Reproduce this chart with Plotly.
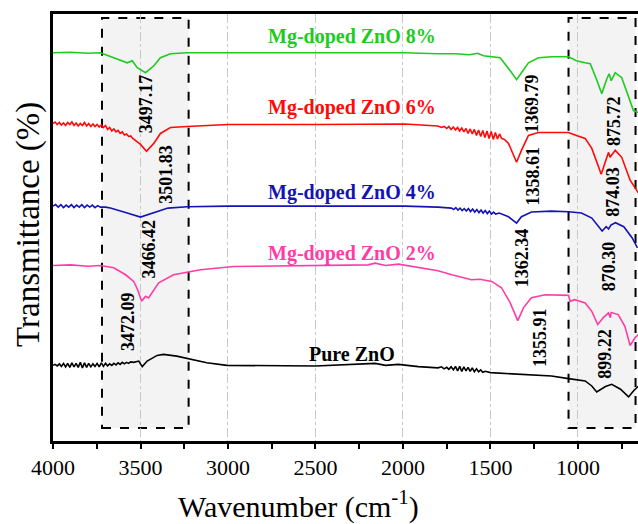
import plotly.graph_objects as go

# ---------------- data ----------------
wn_8 = [4000, 3900, 3800, 3729, 3653, 3576, 3547, 3519, 3471, 3424, 3386, 3329, 3233, 3000, 2500, 2000,
        1800, 1700, 1620, 1574, 1540, 1494, 1445, 1387, 1351, 1323, 1283, 1226, 1151, 1054, 1009, 959,
        930, 902, 864, 835, 822, 810, 787, 750, 711, 683, 654]
t_8 = [390, 390.5, 389.5, 390, 385, 380, 382, 375, 370, 377, 385, 389, 390, 390, 390, 390,
       389, 389, 388, 389.5, 387, 386, 385, 372, 363, 370, 380, 385, 386, 386, 382, 380,
       379, 367, 349, 364, 369, 362, 370, 365, 347, 332, 330]

wn_6 = [4000, 3988, 3976, 3964, 3952, 3940, 3928, 3916, 3904, 3892, 3880, 3868, 3856, 3844, 3832, 3820,
        3808, 3796, 3784, 3772, 3760, 3748, 3736, 3724, 3712, 3700, 3688, 3676, 3664, 3652, 3640, 3628,
        3616, 3604, 3592, 3580, 3568, 3556, 3544, 3530, 3500, 3466, 3424, 3386, 3329, 3233, 3000, 2500,
        1987, 1850, 1800, 1780, 1765, 1750, 1738, 1725, 1712, 1700, 1688, 1676, 1664, 1652, 1640, 1628,
        1616, 1604, 1592, 1580, 1568, 1556, 1544, 1532, 1520, 1508, 1496, 1484, 1472, 1460, 1448, 1437,
        1420, 1397, 1351, 1323, 1283, 1226, 1054, 1009, 959, 921, 867, 835, 825, 817, 787, 750, 702, 654]
t_6 = [319, 320.5, 318, 320, 317.5, 319.5, 317, 320, 318, 320.5, 317, 319.5, 316.5, 319, 317, 320,
       316.5, 319, 316, 318.5, 316, 318, 315.5, 317.5, 315, 317, 313, 315, 311.5, 313.5, 310.5, 312,
       309, 310.5, 307.5, 308.5, 306, 306.5, 304, 302, 298, 291, 299, 309, 315, 316, 318, 318,
       318.5, 317, 316.5, 315, 316, 314, 316, 313, 315.5, 312.5, 315, 311.5, 314.5, 310.5, 314, 309,
       313.5, 308.5, 313, 307, 312.5, 306, 312, 305, 311.5, 304, 311, 303, 310, 303.5, 308.5, 304,
       303, 299, 280, 292, 307, 310, 310, 307, 304, 294, 268, 285, 290, 285, 292, 285, 262, 249]

wn_4 = [4000, 3985, 3970, 3955, 3940, 3925, 3910, 3895, 3880, 3865, 3850, 3835, 3820, 3805, 3790, 3775,
        3760, 3745, 3729, 3700, 3672, 3620, 3576, 3500, 3424, 3343, 3233, 3000, 2500, 1987, 1800, 1723,
        1710, 1698, 1686, 1674, 1662, 1650, 1638, 1626, 1614, 1602, 1590, 1578, 1566, 1554, 1542, 1530,
        1518, 1506, 1494, 1482, 1470, 1450, 1397, 1351, 1323, 1266, 1151, 1054, 980, 921, 862, 839,
        825, 812, 786, 738, 690, 660]
t_4 = [236, 237.5, 235, 237.5, 234.5, 237, 235, 237.5, 234.5, 237, 235, 237.5, 234.5, 237, 235, 237,
       234.5, 236.5, 235, 235, 234, 231, 229, 225, 229, 234, 235.3, 236, 236, 236, 235, 234,
       232.5, 234.5, 232, 234, 231.5, 233.5, 231, 233.5, 230.5, 233, 230, 232.5, 229.5, 232, 229, 231.5,
       228.5, 231, 228, 230, 228, 229, 225.3, 219, 225.3, 230, 231, 230.3, 229, 224, 211, 215.3,
       213, 217, 219.3, 215.3, 204, 194]

wn_2 = [4000, 3900, 3800, 3729, 3653, 3585, 3539, 3516, 3494, 3471, 3454, 3433, 3396, 3311, 3157, 2966,
        2500, 2200, 2159, 2100, 2026, 1912, 1800, 1721, 1609, 1560, 1493, 1437, 1388, 1344, 1311, 1266,
        1187, 1054, 1045, 1020, 959, 921, 887, 855, 826, 815, 810, 770, 732, 702, 673, 654]
t_2 = [176.3, 177, 175.5, 176.3, 174, 167, 160.3, 152, 140.3, 145.3, 143.7, 149, 159, 167, 172, 175.3,
       176.3, 177, 178.7, 176.3, 177.7, 174, 171, 167, 162, 162.5, 160.3, 154, 139, 121, 134, 144,
       147, 146.3, 140.3, 142, 138.7, 130.3, 117, 124, 128.7, 124, 129, 127, 115.3, 96, 104, 107]

wn_0 = [4000, 3988, 3976, 3964, 3952, 3940, 3928, 3916, 3904, 3892, 3880, 3868, 3856, 3844, 3832, 3820,
        3808, 3796, 3784, 3772, 3760, 3748, 3736, 3724, 3712, 3700, 3688, 3676, 3664, 3652, 3640, 3628,
        3616, 3604, 3592, 3580, 3568, 3556, 3539, 3510, 3490, 3462, 3405, 3369, 3293, 3217, 3121, 3007,
        2500, 2159, 2100, 2026, 1912, 1800, 1780, 1765, 1750, 1738, 1725, 1712, 1700, 1688, 1676, 1664,
        1652, 1640, 1628, 1616, 1604, 1592, 1580, 1568, 1556, 1544, 1530, 1500, 1341, 1151, 1054, 959,
        921, 893, 843, 807, 757, 711, 683, 654]
t_0 = [76, 77, 75.5, 77.5, 75, 78, 74.5, 78, 74, 78.5, 74.5, 78, 74, 79, 73.5, 78.5,
       74, 78, 74.5, 77.5, 75, 78, 74.5, 78.5, 75, 78, 75.5, 77.5, 76, 78, 76.5, 78.5,
       77, 79, 77.5, 79, 78, 79.5, 79, 80.3, 74.7, 80.3, 86, 87, 85.3, 82.7, 78.7, 76,
       75.3, 78, 76, 77, 74.7, 73.5, 74.5, 72.5, 74, 72, 74.5, 71.5, 75, 70.5, 75, 70,
       74.5, 70.5, 74, 70, 73.5, 69.5, 72.5, 69.5, 71.5, 69, 70, 68.7, 67, 65.3, 62.7, 60.3,
       55.3, 49.3, 54.7, 57, 52, 44.3, 50.3, 55.3]

series_names = ["Mg-doped ZnO 8%", "Mg-doped ZnO 6%", "Mg-doped ZnO 4%", "Mg-doped ZnO 2%", "Pure ZnO"]
series_x = [wn_8, wn_6, wn_4, wn_2, wn_0]
series_y = [t_8, t_6, t_4, t_2, t_0]

peak_labels = ["3497.17", "3501.83", "3466.42", "3472.09",
               "1369.79", "1358.61", "1362.34", "1355.91",
               "875.72", "874.03", "870.30", "899.22"]

x_ticks = [4000, 3500, 3000, 2500, 2000, 1500, 1000]

# ---------------- styling / placement ----------------
colors = ["#1ecb1e", "#ff0a0a", "#1414b4", "#ff3ca5", "#000000"]
name_pos = [(352, 37), (352, 107), (352, 192), (352, 254), (352, 354)]  # pixel centres
peak_pos = [(3471, 339), (3351, 268), (3454, 193), (3574, 120),
            (1266, 339), (1255, 266), (1323, 184), (1214, 104),
            (797, 321), (797, 250), (826, 176), (843, 88)]
boxes = [(3720, 3225), (1054, 671)]

W, H = 638, 524
ML, MR, MT, MB = 53, 0, 14, 83

fig = go.Figure()

for x0, x1 in boxes:
    fig.add_shape(type="rect", xref="x", yref="y", x0=x0, x1=x1, y0=13, y1=425,
                  fillcolor="#f3f3f3", line=dict(color="black", width=2, dash="dash"),
                  layer="below")

for xs, ys, c, n in zip(series_x, series_y, colors, series_names):
    fig.add_trace(go.Scatter(x=xs, y=ys, mode="lines", name=n,
                             line=dict(color=c, width=1.6), showlegend=False))

serif = "Liberation Serif"

for (px, py), c, n in zip(name_pos, colors, series_names):
    fig.add_annotation(x=(px - ML) / (W - ML - MR), y=1 - (py - MT) / (H - MT - MB),
                       xref="paper", yref="paper", text="<b>%s</b>" % n, showarrow=False,
                       font=dict(family=serif, size=20, color=c), xanchor="center", yanchor="middle")

for (x, y), lab in zip(peak_pos, peak_labels):
    fig.add_annotation(x=x, y=y, xref="x", yref="y", text="<b>%s</b>" % lab, showarrow=False,
                       textangle=-90, font=dict(family=serif, size=18, color="black"),
                       xanchor="center", yanchor="middle")

# axis titles as annotations for exact placement
fig.add_annotation(x=(298 - ML) / (W - ML - MR), y=-(504 - (H - MB)) / (H - MT - MB),
                   xref="paper", yref="paper", text="Wavenumber (cm<sup>-1</sup>)", showarrow=False,
                   font=dict(family=serif, size=30, color="black"), xanchor="center", yanchor="middle")
fig.add_annotation(x=-(ML - 28) / (W - ML - MR), y=1 - (225 - MT) / (H - MT - MB),
                   xref="paper", yref="paper", text="Transmittance (%)", showarrow=False, textangle=-90,
                   font=dict(family=serif, size=33, color="black"), xanchor="center", yanchor="middle")

fig.update_layout(
    width=W, height=H, margin=dict(l=ML, r=MR, t=MT, b=MB),
    paper_bgcolor="white", plot_bgcolor="white",
    xaxis=dict(range=[4000, 657], tickvals=x_ticks, ticktext=[str(v) for v in x_ticks],
               showline=True, linecolor="black", linewidth=2.5, mirror=True,
               ticks="outside", ticklen=5, tickwidth=2, tickcolor="black",
               minor=dict(dtick=250, ticks="outside", ticklen=5, tickwidth=2, tickcolor="black",
                          showgrid=False),
               showgrid=True, gridcolor="#c8c8c8", gridwidth=1, griddash="dashdot",
               tickfont=dict(family=serif, size=22, color="black"), zeroline=False),
    yaxis=dict(range=[0, 429], showline=True, linecolor="black", linewidth=2.5, mirror=False,
               showticklabels=False, ticks="", showgrid=False, zeroline=False),
)

fig.write_html("out.html")
